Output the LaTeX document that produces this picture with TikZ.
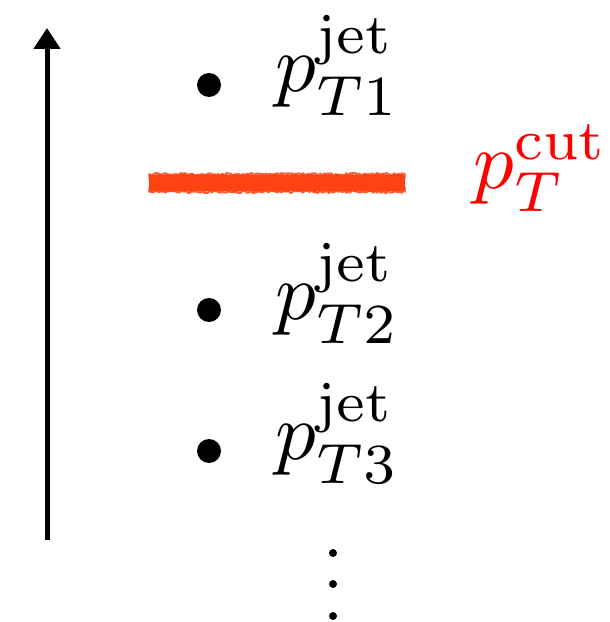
\documentclass[tikz,border=0pt]{standalone}
\usetikzlibrary{arrows.meta,decorations.pathmorphing}
\definecolor{cutred}{RGB}{255,66,18}
\tikzset{
  jetdot/.style={circle,fill=black,inner sep=0pt,minimum size=12pt},
  moredot/.style={circle,fill=black,inner sep=0pt,minimum size=4pt},
  jetlabel/.style={anchor=base west,inner sep=0pt,scale=4.05,transform shape},
  cutline/.style={cutred,line join=round,line cap=round,decorate,decoration={random steps,segment length=0.8pt,amplitude=0.6pt}}
}
\begin{document}
\begin{tikzpicture}[x=0.5pt,y=0.5pt]
\pgfmathsetseed{7}
\useasboundingbox (0,0) rectangle (610,622);
% pT axis
\coordinate (axisbot) at (47,82);
\coordinate (axistop) at (47,594);
\draw[line width=2.5pt,-{Triangle[length=10.5pt,width=13pt]}] (axisbot) -- (axistop);
% jets, ordered in pT
\node[jetdot] (dot1) at (209,537) {};
\node[jetdot] (dot2) at (209,312) {};
\node[jetdot] (dot3) at (209,171) {};
\node[jetlabel] (jet1) at (274,530) {$p_{T1}^{\rm jet}$};
\node[jetlabel] (jet2) at (274,302) {$p_{T2}^{\rm jet}$};
\node[jetlabel] (jet3) at (274,162) {$p_{T3}^{\rm jet}$};
% cut
\coordinate (cutL) at (149,439);
\coordinate (cutR) at (405,439);
\draw[cutred,line width=8pt] (cutL) -- (cutR);
\foreach \dy in {-4.4,-3.6,-2.5,2.5,3.6,4.4}
  \draw[cutline,line width=1pt,opacity=0.85] ([yshift=\dy pt]cutL) -- ([yshift=\dy pt]cutR);
\node[jetlabel,text=red] (cut) at (472,433) {$p_T^{\rm cut}$};
% more jets
\node[moredot] (more1) at (333,69) {};
\node[moredot] (more2) at (333,38) {};
\node[moredot] (more3) at (333,6) {};
\end{tikzpicture}
\end{document}
